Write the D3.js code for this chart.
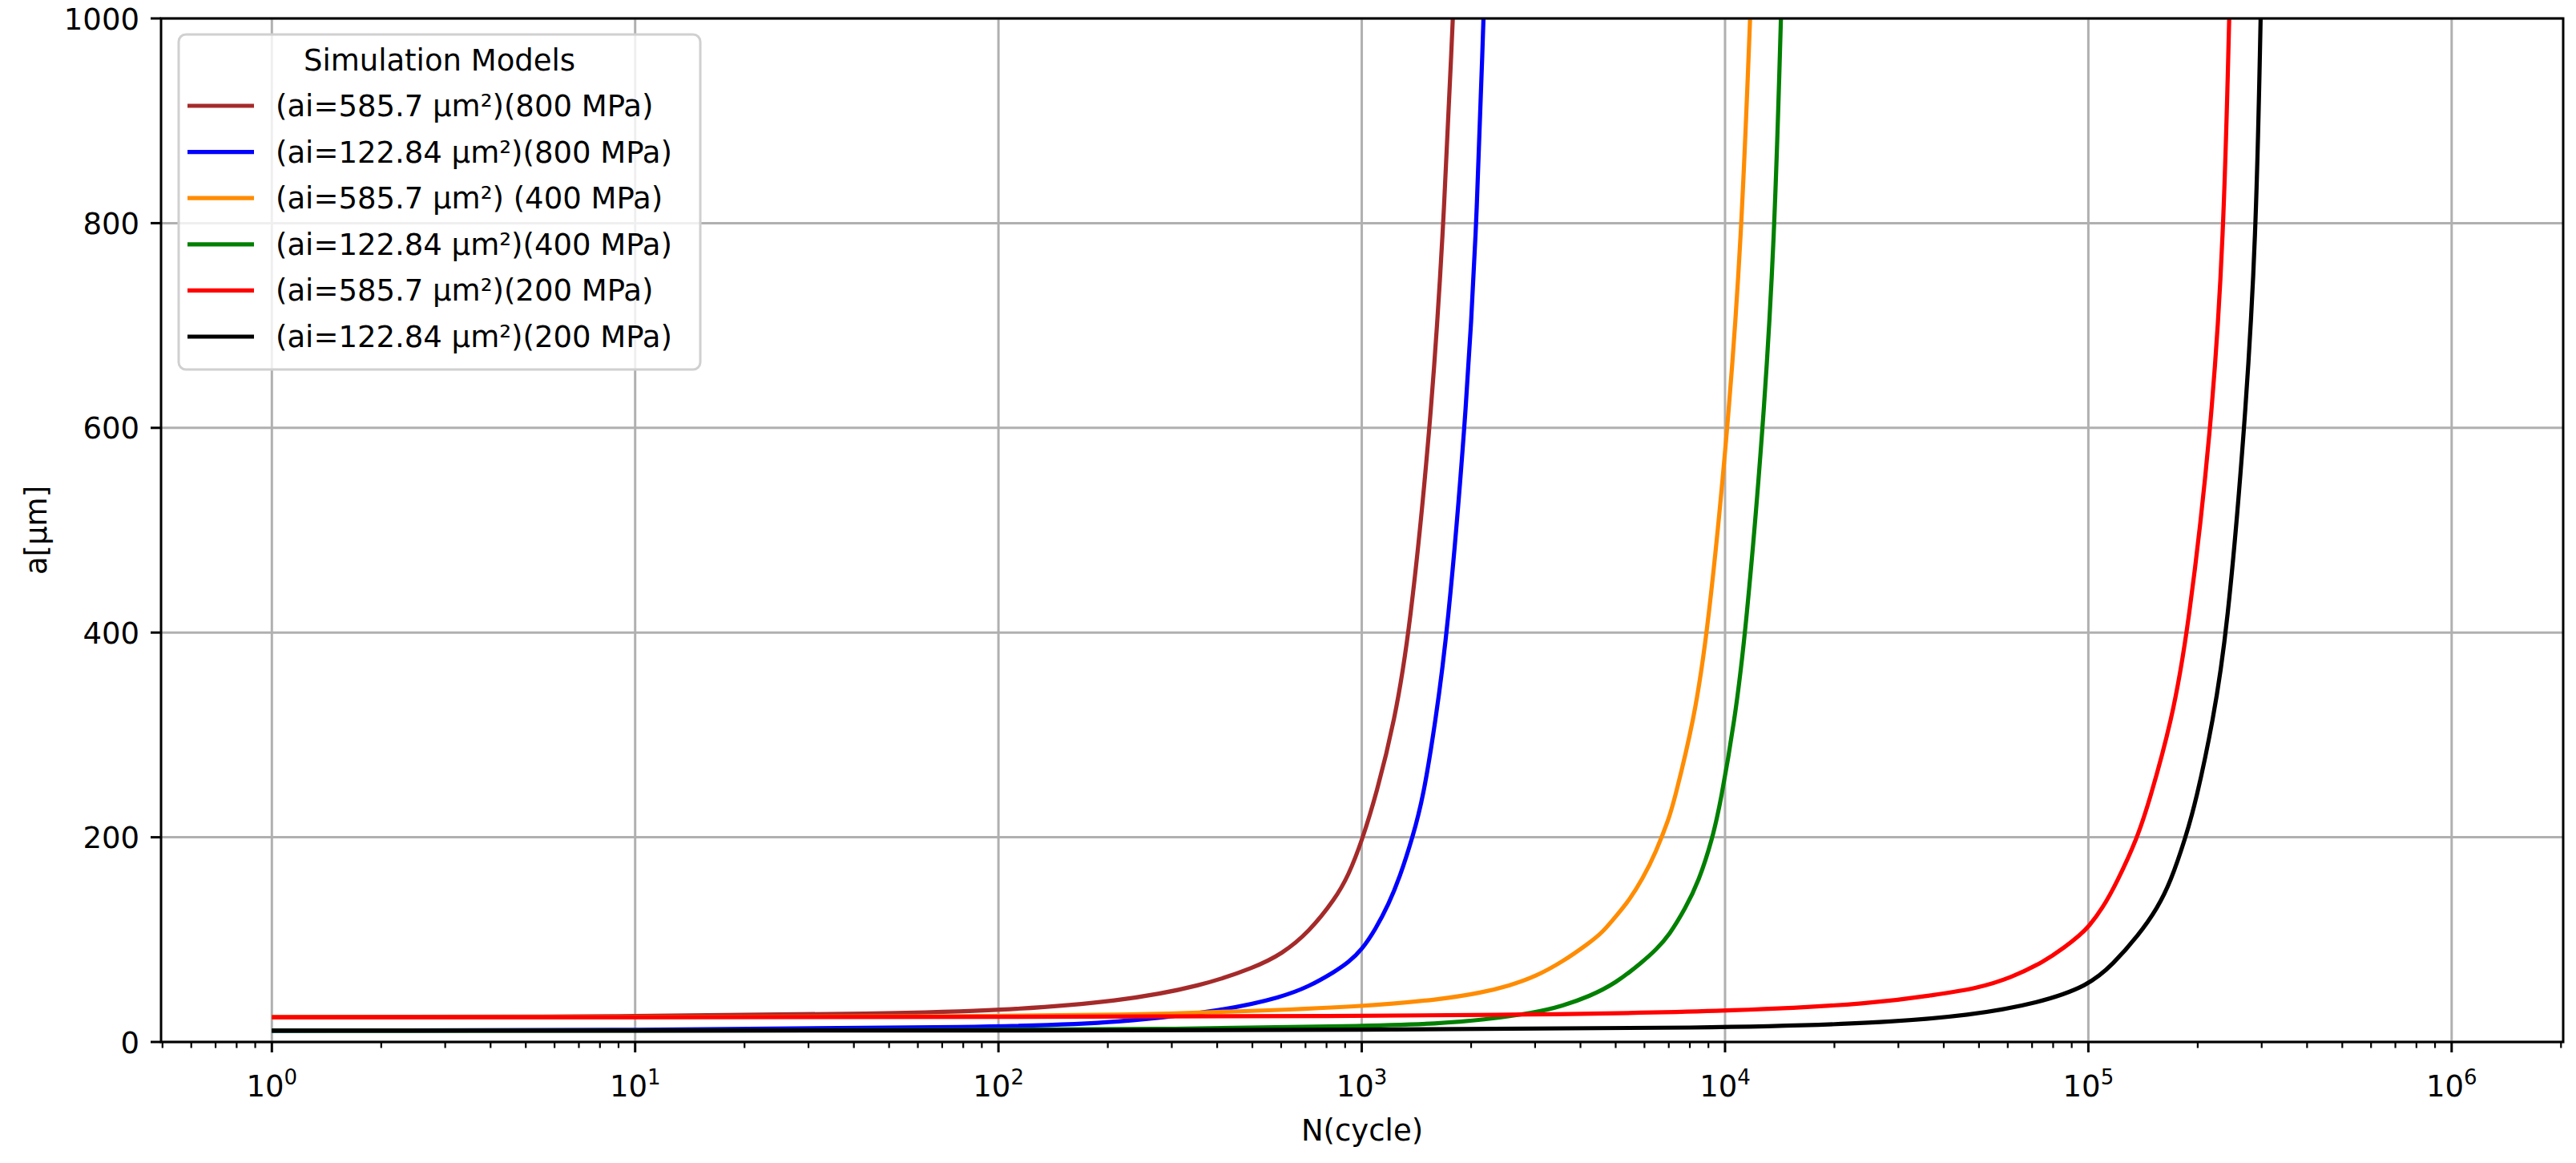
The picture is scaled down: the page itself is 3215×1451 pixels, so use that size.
<!DOCTYPE html>
<html>
<head>
<meta charset="utf-8">
<script src="https://cdn.jsdelivr.net/npm/d3@7"></script>
<style>
  body { margin: 0; background: #ffffff; }
  svg { display: block; }
  text { font-family: "DejaVu Sans", sans-serif; fill: #000; }
</style>
</head>
<body>
<svg id="chart" width="3215" height="1451"></svg>
<script>
// ---------------- data ----------------
const seriesLabels = [
  "(ai=585.7 \u00b5m\u00b2)(800 MPa)",
  "(ai=122.84 \u00b5m\u00b2)(800 MPa)",
  "(ai=585.7 \u00b5m\u00b2) (400 MPa)",
  "(ai=122.84 \u00b5m\u00b2)(400 MPa)",
  "(ai=585.7 \u00b5m\u00b2)(200 MPa)",
  "(ai=122.84 \u00b5m\u00b2)(200 MPa)"
];
const seriesColors = ["#a52a2a", "#0000ff", "#ff8c00", "#008000", "#ff0000", "#000000"];

const brownN = [1, 10, 50, 100, 218, 363, 509, 603, 714, 846, 920, 1000, 1099, 1230, 1355, 1545, 1673, 1781];
const brownA = [24.2, 24.8, 27.8, 30.5, 39.7, 54.8, 73, 86, 107, 140, 163, 196, 243, 313, 400, 600, 783, 1000];

const blueN = [1, 10, 100, 217, 427, 603, 714, 846, 920, 1000, 1091, 1187, 1270, 1381, 1479, 1595, 1722, 1925, 2065, 2163];
const blueA = [11.1, 11.4, 14.3, 18.8, 31.3, 44, 54, 69, 78, 90, 110, 135, 160, 200, 240, 313, 400, 600, 783, 1000];

const orangeN = [1, 10, 100, 217, 455, 1000, 1652, 2146, 2541, 3013, 3568, 4224, 4596, 5004, 5445, 5928, 6452, 7022, 7236, 8200, 8960, 10190, 11090, 11720];
const orangeA = [24.2, 24.3, 25.2, 26.3, 29.7, 34.5, 41.5, 48.3, 54.8, 64, 78.3, 96.6, 107, 122.7, 138.3, 159.2, 185.3, 219.3, 235, 313, 400, 600, 783, 1000];

const greenN = [1, 10, 100, 300, 1000, 1650, 2146, 3013, 3568, 4224, 5004, 5928, 6452, 7022, 7776, 8459, 9240, 9731, 10620, 11400, 12740, 13680, 14250];
const greenA = [11.1, 11.15, 11.6, 12.6, 15.5, 18, 21.5, 28.7, 35.2, 44.4, 57.4, 78.3, 90, 104.4, 130.5, 156.6, 199, 235, 313, 400, 600, 783, 1000];

const redN = [1, 10, 100, 1000, 2743, 10000, 26390, 37020, 49370, 61520, 75390, 86290, 94730, 100000, 109400, 120100, 136300, 147100, 169500, 188000, 218300, 235700, 244200];
const redA = [24.2, 24.2, 24.4, 25.3, 26.6, 29.5, 37.8, 45.7, 52.2, 63, 78.3, 92.7, 104.4, 112.2, 130.5, 156.6, 199, 235, 313, 400, 600, 783, 1000];

const blackN = [1, 10, 100, 1000, 10000, 26390, 47720, 72880, 100000, 117000, 137500, 154800, 168500, 184900, 197800, 220300, 240900, 269600, 289500, 298000];
const blackA = [11.1, 11.1, 11.2, 11.8, 13.6, 18.3, 26.1, 38, 54.8, 76, 104.4, 130.5, 156.6, 199, 235, 313, 400, 600, 783, 1000];

const xTickExponents = [0, 1, 2, 3, 4, 5, 6];
const yTickValues = [0, 200, 400, 600, 800, 1000];
const legendTitle = "Simulation Models";
const xAxisLabel = "N(cycle)";
const yAxisLabel = "a[\u00b5m]";

// ---------------- layout ----------------
const L = 201, R = 3199, T = 23, B = 1300;
const FS = 37;

const svg = d3.select("#chart");
svg.append("rect").attr("width", 3215).attr("height", 1451).attr("fill", "#fff");

const x = d3.scaleLog().domain([Math.pow(10, -0.305), Math.pow(10, 6.307)]).range([L, R]);
const y = d3.scaleLinear().domain([0, 1000]).range([B, T]);

// grid
const grid = svg.append("g");
xTickExponents.forEach(e => {
  const xv = x(Math.pow(10, e));
  grid.append("line").attr("x1", xv).attr("x2", xv).attr("y1", T).attr("y2", B)
    .attr("stroke", "#b0b0b0").attr("stroke-width", 3);
});
yTickValues.forEach(v => {
  grid.append("line").attr("x1", L).attr("x2", R).attr("y1", y(v)).attr("y2", y(v))
    .attr("stroke", "#b0b0b0").attr("stroke-width", 3);
});

// clip
svg.append("defs").append("clipPath").attr("id", "plotclip")
  .append("rect").attr("x", L).attr("y", T).attr("width", R - L).attr("height", B - T);

const seriesData = [
  [brownN, brownA], [blueN, blueA], [orangeN, orangeA],
  [greenN, greenA], [redN, redA], [blackN, blackA]
];

const line = d3.line()
  .x(d => x(d[0]))
  .y(d => y(d[1]))
  .curve(d3.curveBasis);

const plot = svg.append("g").attr("clip-path", "url(#plotclip)");
seriesData.forEach((s, i) => {
  const pts = s[0].map((n, j) => [n, s[1][j]]);
  plot.append("path").attr("d", line(pts))
    .attr("fill", "none").attr("stroke", seriesColors[i])
    .attr("stroke-width", 5.2).attr("stroke-linejoin", "round");
});

// spines
svg.append("rect").attr("x", L).attr("y", T).attr("width", R - L).attr("height", B - T)
  .attr("fill", "none").attr("stroke", "#000").attr("stroke-width", 3);

// x ticks (major + minor)
const ticks = svg.append("g");
const [d0, d1] = x.domain();
for (let e = -1; e <= 6; e++) {
  for (let k = 2; k <= 9; k++) {
    const v = k * Math.pow(10, e);
    if (v < d0 || v > d1) continue;
    ticks.append("line").attr("x1", x(v)).attr("x2", x(v)).attr("y1", B).attr("y2", B + 7.5)
      .attr("stroke", "#000").attr("stroke-width", 2.2);
  }
}
xTickExponents.forEach(e => {
  const xv = x(Math.pow(10, e));
  ticks.append("line").attr("x1", xv).attr("x2", xv).attr("y1", B).attr("y2", B + 13)
    .attr("stroke", "#000").attr("stroke-width", 3);
  const t = ticks.append("text").attr("x", xv).attr("y", 1368)
    .attr("text-anchor", "middle").attr("font-size", FS);
  t.append("tspan").text("10");
  t.append("tspan").attr("dy", -15).attr("font-size", 26).text(String(e));
});
yTickValues.forEach(v => {
  ticks.append("line").attr("x1", L - 13).attr("x2", L).attr("y1", y(v)).attr("y2", y(v))
    .attr("stroke", "#000").attr("stroke-width", 3);
  ticks.append("text").attr("x", L - 27).attr("y", y(v) + 13.5)
    .attr("text-anchor", "end").attr("font-size", FS).text(String(v));
});

// axis labels
svg.append("text").attr("x", (L + R) / 2).attr("y", 1423)
  .attr("text-anchor", "middle").attr("font-size", FS).text(xAxisLabel);
svg.append("text").attr("transform", `translate(58, ${(T + B) / 2}) rotate(-90)`)
  .attr("text-anchor", "middle").attr("font-size", FS).text(yAxisLabel);

// legend
const lg = svg.append("g");
lg.append("rect").attr("x", 223).attr("y", 43).attr("width", 651).attr("height", 418)
  .attr("rx", 9).attr("ry", 9)
  .attr("fill", "rgba(255,255,255,0.8)").attr("stroke", "#d0d0d0").attr("stroke-width", 3);
lg.append("text").attr("x", 548.5).attr("y", 88).attr("text-anchor", "middle")
  .attr("font-size", FS).text(legendTitle);
seriesLabels.forEach((lab, i) => {
  const cy = 132 + i * 57.6;
  lg.append("line").attr("x1", 234).attr("x2", 317).attr("y1", cy).attr("y2", cy)
    .attr("stroke", seriesColors[i]).attr("stroke-width", 5.2);
  lg.append("text").attr("x", 344).attr("y", cy + 13).attr("font-size", FS).text(lab);
});
</script>
</body>
</html>
